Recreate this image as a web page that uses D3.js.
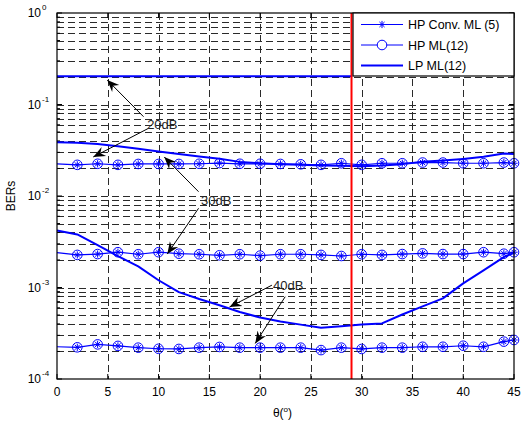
<!DOCTYPE html>
<html>
<head>
<meta charset="utf-8">
<script src="https://cdn.jsdelivr.net/npm/d3@7"></script>
<style>
  body { margin: 0; background: #fff; }
  text { font-family: "Liberation Sans", Arial, sans-serif; }
</style>
</head>
<body>
<div id="graphic"></div>
<script>
// angles (degrees) where the curves were sampled
const theta = [0, 2, 4, 6, 8, 10, 12, 14, 16, 18, 20, 22, 24, 26, 28, 30, 32, 34, 36, 38, 40, 42, 44, 45];

// HP Conv. ML (5) and HP ML(12) overlap
const hp20 = [0.0224, 0.0219, 0.0225, 0.0219, 0.0224, 0.0224, 0.0224, 0.0225, 0.0229, 0.0225, 0.0225, 0.0224,
              0.0222, 0.0219, 0.0228, 0.0219, 0.0228, 0.0228, 0.0232, 0.0232, 0.0228, 0.0228, 0.0232, 0.0228];
const hp30 = [0.0024, 0.00227, 0.00232, 0.00243, 0.00231, 0.00243, 0.00234, 0.00231, 0.00225, 0.00231, 0.00223, 0.00231,
              0.00231, 0.00227, 0.00221, 0.00231, 0.00227, 0.00232, 0.00236, 0.00232, 0.00232, 0.00243, 0.00234, 0.00243];
const hp40 = [0.000225, 0.000222, 0.000239, 0.00023, 0.00022, 0.000214, 0.000213, 0.00022, 0.000224, 0.00022, 0.00022, 0.00022,
              0.00022, 0.000207, 0.00022, 0.000213, 0.00022, 0.00022, 0.000225, 0.000225, 0.000231, 0.000225, 0.000256, 0.000267];

// LP ML(12)
const lp30 = [0.0386, 0.0383, 0.037, 0.035, 0.0328, 0.0307, 0.0287, 0.027, 0.0255, 0.0236, 0.0228, 0.0223,
              0.0219, 0.0216, 0.0214, 0.0212, 0.0215, 0.0223, 0.0237, 0.0245, 0.0254, 0.0269, 0.0292, 0.0288];
const lp40 = [0.0042, 0.0038, 0.0029, 0.0022, 0.0017, 0.0012, 0.00089, 0.00075, 0.00064, 0.00054, 0.00047, 0.000426,
              0.000393, 0.000364, 0.000378, 0.000393, 0.000405, 0.000507, 0.000622, 0.00076, 0.00111, 0.00154, 0.00215, 0.0024];
const theta20 = [0, 10, 20, 29];
const lp20 = [0.203, 0.203, 0.203, 0.203];

const redLineX = 29;

const xTicks = [0, 5, 10, 15, 20, 25, 30, 35, 40, 45];
const yDecades = [1e-4, 1e-3, 1e-2, 1e-1, 1e0];
const yExponents = ["-4", "-3", "-2", "-1", "0"];

const legendLabels = ["HP Conv. ML (5)", "HP ML(12)", "LP ML(12)"];

// annotations (data coordinates)
const annoText = ["20dB", "30dB", "40dB"];
const annoX = [10.37, 15.68, 22.77];
const annoY = [0.0597, 0.00904, 0.00106];
const arrowTail = [[8.52, 0.0736], [9.02, 0.055], [13.94, 0.01114], [13.94, 0.00734], [21.16, 0.00106], [22.47, 0.000793]];
const arrowHead = [[4.95, 0.185], [3.57, 0.0267], [10.56, 0.0267], [10.86, 0.00232], [16.99, 0.000612], [19.52, 0.000245]];

const margin = {top: 13, right: 9, bottom: 45, left: 57};
const plotWidth = 523 - margin.left - margin.right;
const plotHeight = 424 - margin.top - margin.bottom;
const blue = "#0000ff";

const svg = d3.select("#graphic")
  .append("svg")
  .attr("width", 523)
  .attr("height", 424);

const defs = svg.append("defs");
defs.append("marker")
  .attr("id", "arrow")
  .attr("viewBox", "-12 -6 14 12")
  .attr("refX", 0).attr("refY", 0)
  .attr("markerWidth", 14).attr("markerHeight", 12)
  .attr("markerUnits", "userSpaceOnUse")
  .attr("orient", "auto")
  .append("path")
  .attr("d", "M0,0 L-12,-5 L-8,0 L-12,5 Z")
  .attr("fill", "#000");

const g = svg.append("g")
  .attr("transform", "translate(" + margin.left + "," + margin.top + ")");

const x = d3.scaleLinear().domain([0, 45]).range([0, plotWidth]);
const y = d3.scaleLog().domain([1e-4, 1]).range([plotHeight, 0]);

// minor log positions
let yMinor = [];
for (let i = 0; i < yDecades.length - 1; i++) {
  for (let k = 2; k <= 9; k++) yMinor.push(yDecades[i] * k);
}
const yGrid = yMinor.concat(yDecades.slice(1, -1));

// grid
g.append("g").selectAll("line").data(yGrid).join("line")
  .attr("x1", 0).attr("x2", plotWidth)
  .attr("y1", d => Math.round(y(d)) + 0.5).attr("y2", d => Math.round(y(d)) + 0.5)
  .attr("stroke", "#2a2a2a").attr("stroke-width", 1).attr("stroke-dasharray", "7,4");
g.append("g").selectAll("line").data(xTicks.slice(1, -1)).join("line")
  .attr("x1", d => Math.round(x(d)) + 0.5).attr("x2", d => Math.round(x(d)) + 0.5)
  .attr("y1", 0).attr("y2", plotHeight)
  .attr("stroke", "#2a2a2a").attr("stroke-width", 1).attr("stroke-dasharray", "7,4");

// ticks (inside, on all four sides)
const tk = g.append("g").attr("stroke", "#000").attr("stroke-width", 1);
xTicks.forEach(v => {
  tk.append("line").attr("x1", x(v)).attr("x2", x(v)).attr("y1", plotHeight).attr("y2", plotHeight - 5);
  tk.append("line").attr("x1", x(v)).attr("x2", x(v)).attr("y1", 0).attr("y2", 5);
});
yDecades.concat(yMinor).forEach(v => {
  const len = yDecades.includes(v) ? 5 : 3;
  tk.append("line").attr("x1", 0).attr("x2", len).attr("y1", y(v)).attr("y2", y(v));
  tk.append("line").attr("x1", plotWidth).attr("x2", plotWidth - len).attr("y1", y(v)).attr("y2", y(v));
});

// x axis labels
g.append("g").selectAll("text").data(xTicks).join("text")
  .attr("x", d => x(d)).attr("y", plotHeight + 17)
  .attr("text-anchor", "middle").attr("font-size", 12)
  .text(d => d);

// y axis labels 10^n
yDecades.forEach((v, i) => {
  g.append("text")
    .attr("x", -16).attr("y", y(v) + 4)
    .attr("text-anchor", "end").attr("font-size", 12)
    .text("10");
  g.append("text")
    .attr("x", -15).attr("y", y(v) - 3)
    .attr("text-anchor", "start").attr("font-size", 8)
    .text(yExponents[i]);
});

// axis titles
const xt = svg.append("text")
  .attr("x", margin.left + plotWidth / 2 - 3).attr("y", 417)
  .attr("text-anchor", "middle").attr("font-size", 12);
xt.append("tspan").text("\u03b8(");
xt.append("tspan").attr("font-size", 8).attr("dy", -5).text("o");
xt.append("tspan").attr("dy", 5).text(")");

svg.append("text")
  .attr("transform", "translate(15," + (margin.top + y(1e-2)) + ") rotate(-90)")
  .attr("text-anchor", "middle").attr("font-size", 12)
  .text("BERs");

// curves
const line = d3.line()
  .x(d => x(d[0]))
  .y(d => y(d[1]));

const zip = (xs, ys) => xs.map((v, i) => [v, ys[i]]);

[hp20, hp30, hp40].forEach(s => {
  g.append("path")
    .datum(zip(theta, s))
    .attr("fill", "none").attr("stroke", blue).attr("stroke-width", 1.2)
    .attr("d", line);
});

[zip(theta20, lp20), zip(theta, lp30), zip(theta, lp40)].forEach(s => {
  g.append("path")
    .datum(s)
    .attr("fill", "none").attr("stroke", blue).attr("stroke-width", 2)
    .attr("stroke-linejoin", "round")
    .attr("d", line);
});

// markers: star + circle, no marker at theta = 0
const starPath = r => {
  const d = r * 0.7071;
  return "M" + (-r) + ",0L" + r + ",0M0," + (-r) + "L0," + r +
         "M" + (-d) + "," + (-d) + "L" + d + "," + d + "M" + (-d) + "," + d + "L" + d + "," + (-d);
};
[hp20, hp30, hp40].forEach(s => {
  const pts = zip(theta, s).filter(d => d[0] > 0);
  const mg = g.append("g");
  mg.selectAll("circle").data(pts).join("circle")
    .attr("cx", d => x(d[0])).attr("cy", d => y(d[1])).attr("r", 4.8)
    .attr("fill", "none").attr("stroke", blue).attr("stroke-width", 1);
  mg.selectAll("path").data(pts).join("path")
    .attr("transform", d => "translate(" + x(d[0]) + "," + y(d[1]) + ")")
    .attr("d", starPath(3.6))
    .attr("fill", "none").attr("stroke", blue).attr("stroke-width", 1);
});

// annotations
arrowTail.forEach((t, i) => {
  g.append("line")
    .attr("x1", x(t[0])).attr("y1", y(t[1]))
    .attr("x2", x(arrowHead[i][0])).attr("y2", y(arrowHead[i][1]))
    .attr("stroke", "#000").attr("stroke-width", 1)
    .attr("marker-end", "url(#arrow)");
});
annoText.forEach((t, i) => {
  g.append("text")
    .attr("x", x(annoX[i])).attr("y", y(annoY[i]) + 4.5)
    .attr("text-anchor", "middle").attr("font-size", 13)
    .attr("fill", "#222")
    .text(t);
});

// red vertical line
g.append("line")
  .attr("x1", x(redLineX)).attr("x2", x(redLineX))
  .attr("y1", 0).attr("y2", plotHeight)
  .attr("stroke", "#ff0000").attr("stroke-width", 2);

// axes box
g.append("rect")
  .attr("x", 0).attr("y", 0).attr("width", plotWidth).attr("height", plotHeight)
  .attr("fill", "none").attr("stroke", "#000").attr("stroke-width", 1.2);

// legend
const lg = g.append("g").attr("transform", "translate(" + (x(redLineX) + 1.5) + ",0)");
const lgW = plotWidth - x(redLineX) - 1.5;
lg.append("rect")
  .attr("x", 0).attr("y", 0).attr("width", lgW).attr("height", 63)
  .attr("fill", "#fff").attr("stroke", "#000").attr("stroke-width", 1.2);
legendLabels.forEach((lab, i) => {
  const ly = 11.5 + i * 20.5;
  lg.append("line")
    .attr("x1", 8).attr("x2", 50).attr("y1", ly).attr("y2", ly)
    .attr("stroke", blue).attr("stroke-width", i === 2 ? 2 : 1);
  if (i === 0) {
    lg.append("path").attr("transform", "translate(29," + ly + ")")
      .attr("d", starPath(3.6)).attr("fill", "none").attr("stroke", blue);
  }
  if (i === 1) {
    lg.append("circle").attr("cx", 29).attr("cy", ly).attr("r", 4.8)
      .attr("fill", "#fff").attr("stroke", blue);
  }
  lg.append("text")
    .attr("x", 55).attr("y", ly + 4.5)
    .attr("font-size", 12.5)
    .text(lab);
});
</script>
</body>
</html>
